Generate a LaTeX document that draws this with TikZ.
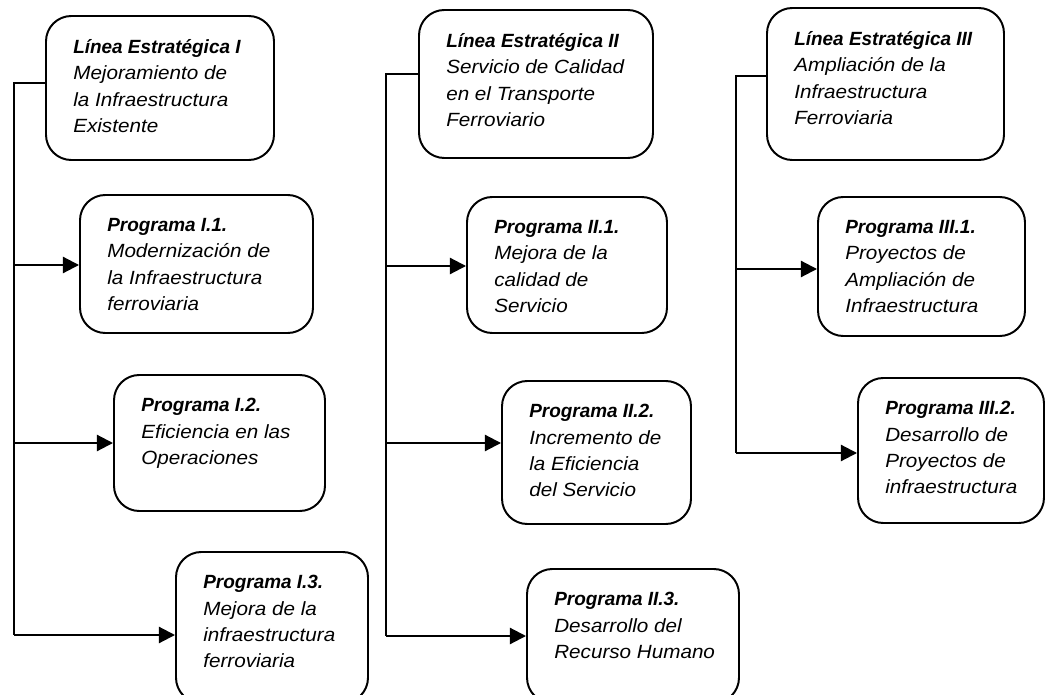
\documentclass[tikz,border=0pt]{standalone}
\usepackage{fontspec}
\setmainfont{Liberation Sans}[FakeStretch=1.08,BoldItalicFeatures={FakeStretch=0.99}]
\usetikzlibrary{arrows.meta,calc,fit}

\tikzset{
  caja/.style={draw,line width=1.4pt,rounded corners=18pt,inner sep=0pt},
  texto/.style={anchor=north west,inner sep=0pt,align=left,
    font=\fontsize{13.6}{18.8}\selectfont\itshape},
  linea/.style={line width=1.5pt},
  flecha/.style={line width=1.5pt,-{Triangle[length=11.5pt,width=11.5pt]}}
}

\begin{document}
\begin{tikzpicture}[x=.025cm,y=-.025cm]
\path[use as bounding box,clip] (0,0) rectangle (1045,695);

\node[caja,fit={(46,16) (274,160)}] (L1) {};
\node[caja,fit={(80,195) (313,333)}] (P11) {};
\node[caja,fit={(114,375) (325,511)}] (P12) {};
\node[caja,fit={(176,552) (368,703)}] (P13) {};

\node[caja,fit={(419,10) (653,158)}] (L2) {};
\node[caja,fit={(467,197) (667,333)}] (P21) {};
\node[caja,fit={(502,381) (691,524)}] (P22) {};
\node[caja,fit={(527,569) (739,703)}] (P23) {};

\node[caja,fit={(767,8) (1004,160)}] (L3) {};
\node[caja,fit={(818,197) (1025,336)}] (P31) {};
\node[caja,fit={(858,378) (1044,523)}] (P32) {};

\node[texto] (tL1) at ([shift={(28,24)}]L1.north west)
  {\textbf{Línea Estratégica I}\\Mejoramiento de\\la Infraestructura\\Existente};
\node[texto] (tP11) at ([shift={(28,24)}]P11.north west)
  {\textbf{Programa I.1.}\\Modernización de\\la Infraestructura\\ferroviaria};
\node[texto] (tP12) at ([shift={(28,24)}]P12.north west)
  {\textbf{Programa I.2.}\\Eficiencia en las\\Operaciones};
\node[texto] (tP13) at ([shift={(28,24)}]P13.north west)
  {\textbf{Programa I.3.}\\Mejora de la\\infraestructura\\ferroviaria};

\node[texto] (tL2) at ([shift={(28,24)}]L2.north west)
  {\textbf{Línea Estratégica II}\\Servicio de Calidad\\en el Transporte\\Ferroviario};
\node[texto] (tP21) at ([shift={(28,24)}]P21.north west)
  {\textbf{Programa II.1.}\\Mejora de la\\calidad de\\Servicio};
\node[texto] (tP22) at ([shift={(28,24)}]P22.north west)
  {\textbf{Programa II.2.}\\Incremento de\\la Eficiencia\\del Servicio};
\node[texto] (tP23) at ([shift={(28,24)}]P23.north west)
  {\textbf{Programa II.3.}\\Desarrollo del\\Recurso Humano};

\node[texto] (tL3) at ([shift={(28,24)}]L3.north west)
  {\textbf{Línea Estratégica III}\\Ampliación de la\\Infraestructura\\Ferroviaria};
\node[texto] (tP31) at ([shift={(28,24)}]P31.north west)
  {\textbf{Programa III.1.}\\Proyectos de\\Ampliación de\\Infraestructura};
\node[texto] (tP32) at ([shift={(28,24)}]P32.north west)
  {\textbf{Programa III.2.}\\Desarrollo de\\Proyectos de\\infraestructura};

\coordinate (t1) at (14,83);
\coordinate (a11) at (14,265);
\coordinate (a12) at (14,443);
\coordinate (b1) at (14,635);
\coordinate (t2) at (386,74);
\coordinate (a21) at (386,266);
\coordinate (a22) at (386,443);
\coordinate (b2) at (386,636);
\coordinate (t3) at (736,76);
\coordinate (a31) at (736,269);
\coordinate (b3) at (736,453);

\draw[linea] (t1 -| L1.west) -- (t1) -- (b1);
\draw[linea] (t2 -| L2.west) -- (t2) -- (b2);
\draw[linea] (t3 -| L3.west) -- (t3) -- (b3);

\draw[flecha] (a11) -- (a11 -| P11.west);
\draw[flecha] (a12) -- (a12 -| P12.west);
\draw[flecha] (b1) -- (b1 -| P13.west);

\draw[flecha] (a21) -- (a21 -| P21.west);
\draw[flecha] (a22) -- (a22 -| P22.west);
\draw[flecha] (b2) -- (b2 -| P23.west);

\draw[flecha] (a31) -- (a31 -| P31.west);
\draw[flecha] (b3) -- (b3 -| P32.west);

\end{tikzpicture}
\end{document}
